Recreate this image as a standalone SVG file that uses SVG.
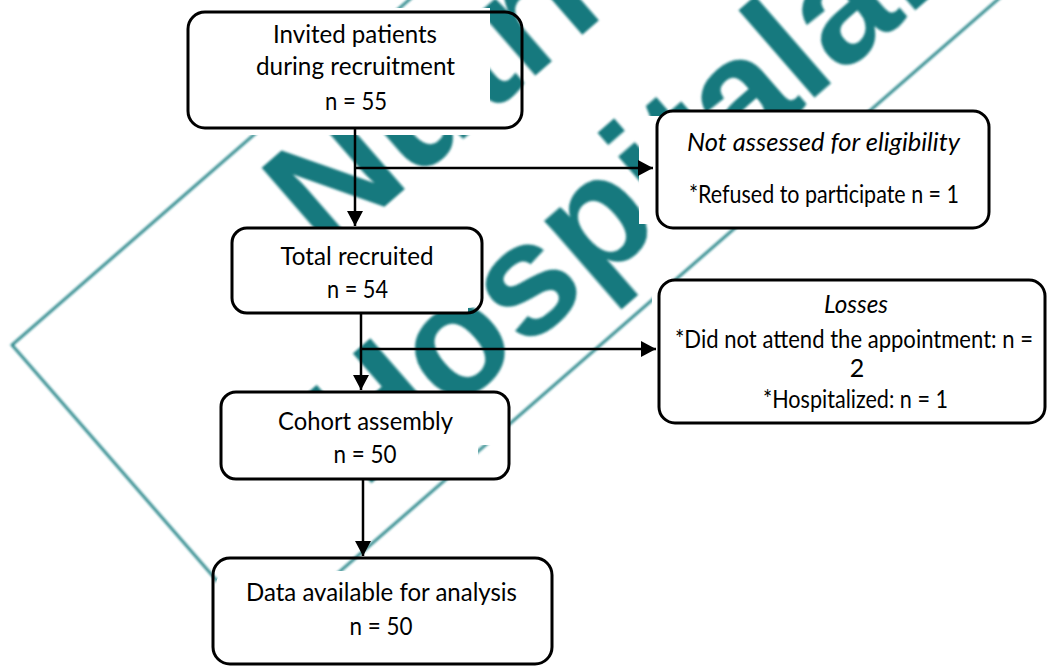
<svg xmlns="http://www.w3.org/2000/svg" width="1048" height="671" viewBox="0 0 1048 671">
  <style>
    .wm-text { font-family: "Liberation Sans", Arial, sans-serif; font-weight: 700; font-size: 160px; fill: #13797e; }
    .wm-frame { fill: none; stroke: #1f7f82; stroke-width: 2.6; }
    .back { fill: #ffffff; stroke: none; }
    .box { fill: none; stroke: #000000; stroke-width: 3; }
    .t { font-family: Lato, "Open Sans", sans-serif; font-size: 25px; fill: #000000; text-anchor: middle; }
    .it { font-style: italic; }
    .link { fill: none; stroke: #000000; stroke-width: 2.5; }
  </style>
  <defs>
    <filter id="soft" x="-5%" y="-5%" width="110%" height="110%">
      <feGaussianBlur stdDeviation="0.9"/>
    </filter>
    <marker id="head" markerUnits="userSpaceOnUse" markerWidth="15" markerHeight="16" viewBox="0 0 15 16" refX="15" refY="8" orient="auto">
      <path d="M0,0 L15,8 L0,16 Z" fill="#000000"/>
    </marker>
  </defs>

  <rect width="1048" height="671" fill="#ffffff"/>

  <!-- journal watermark, tilted band behind the chart -->
  <g id="watermark" filter="url(#soft)" transform="translate(12,345) rotate(-41)">
    <rect class="wm-frame" x="0" y="0" width="1600" height="386"/>
    <text class="wm-text" x="294" y="140">Nutrición</text>
    <text class="wm-text" x="170" y="340">Hospitalaria</text>
  </g>

  <g id="node-invited">
    <rect class="back" x="188" y="8" width="302" height="127"/>
    <rect class="box" x="188" y="12" width="334" height="116" rx="17"/>
    <text class="t" x="355" y="43" textLength="164" lengthAdjust="spacingAndGlyphs">Invited patients</text>
    <text class="t" x="355.5" y="75" textLength="199" lengthAdjust="spacingAndGlyphs">during recruitment</text>
    <text class="t" x="356" y="110" textLength="62" lengthAdjust="spacingAndGlyphs">n = 55</text>
  </g>

  <g id="node-not-assessed">
    <rect class="back" x="639" y="116" width="30" height="108"/>
    <rect class="back" x="657" y="111" width="332" height="117" rx="16"/>
    <rect class="box" x="657" y="111" width="332" height="117" rx="16"/>
    <text class="t it" x="823.5" y="151" textLength="273" lengthAdjust="spacingAndGlyphs">Not assessed for eligibility</text>
    <text class="t" x="824" y="203" textLength="270" lengthAdjust="spacingAndGlyphs">*Refused to participate n = 1</text>
  </g>

  <g id="node-total">
    <rect class="back" x="232" y="228" width="236" height="85"/>
    <rect class="back" x="232" y="228" width="250" height="80" rx="14"/>
    <rect class="box" x="232" y="228" width="250" height="85" rx="15"/>
    <text class="t" x="357" y="265" textLength="153" lengthAdjust="spacingAndGlyphs">Total recruited</text>
    <text class="t" x="357.5" y="298" textLength="61" lengthAdjust="spacingAndGlyphs">n = 54</text>
  </g>

  <g id="node-losses">
    <rect class="back" x="652" y="280" width="12" height="143"/>
    <rect class="back" x="659" y="280" width="386" height="143" rx="16"/>
    <rect class="box" x="659" y="280" width="386" height="143" rx="16"/>
    <text class="t it" x="856" y="313" textLength="64" lengthAdjust="spacingAndGlyphs">Losses</text>
    <text class="t" x="854" y="348" textLength="358" lengthAdjust="spacingAndGlyphs">*Did not attend the appointment: n =</text>
    <text class="t" x="857" y="377">2</text>
    <text class="t" x="855.5" y="408" textLength="185" lengthAdjust="spacingAndGlyphs">*Hospitalized: n = 1</text>
  </g>

  <g id="node-cohort">
    <rect class="back" x="221" y="392" width="257" height="87" rx="14"/>
    <rect class="back" x="300" y="392" width="209" height="53" rx="14"/>
    <rect class="box" x="221" y="392" width="288" height="87" rx="15"/>
    <text class="t" x="365.5" y="430" textLength="175" lengthAdjust="spacingAndGlyphs">Cohort assembly</text>
    <text class="t" x="365" y="463" textLength="63" lengthAdjust="spacingAndGlyphs">n = 50</text>
  </g>

  <g id="node-data">
    <rect class="back" x="216" y="571" width="334" height="91" rx="14"/>
    <rect class="back" x="382" y="559" width="168" height="20"/>
    <rect class="box" x="213" y="558" width="339" height="106" rx="17"/>
    <text class="t" x="381.5" y="601" textLength="271" lengthAdjust="spacingAndGlyphs">Data available for analysis</text>
    <text class="t" x="381" y="635" textLength="63" lengthAdjust="spacingAndGlyphs">n = 50</text>
  </g>

  <g id="connectors">
    <line class="link" x1="355" y1="128" x2="355" y2="226" marker-end="url(#head)"/>
    <line class="link" x1="356" y1="168" x2="653" y2="168" marker-end="url(#head)"/>
    <line class="link" x1="361" y1="313" x2="361" y2="390" marker-end="url(#head)"/>
    <line class="link" x1="362" y1="349" x2="656" y2="349" marker-end="url(#head)"/>
    <line class="link" x1="363" y1="479" x2="363" y2="556" marker-end="url(#head)"/>
  </g>
</svg>
